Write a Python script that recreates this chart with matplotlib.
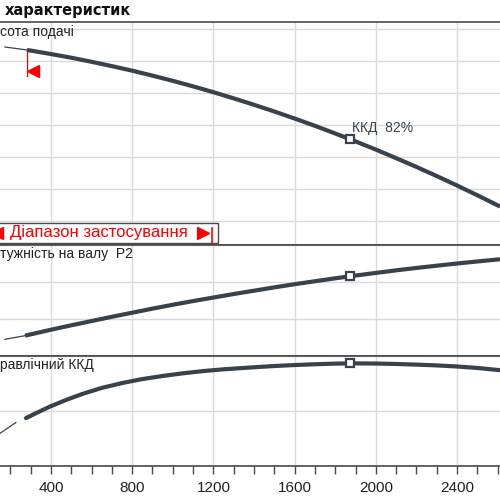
import matplotlib
matplotlib.use("Agg")
import matplotlib.pyplot as plt
from matplotlib.patches import Rectangle
from matplotlib.lines import Line2D

# ---- data ----
q_head = [282, 400, 500, 600, 700, 800, 900, 1000, 1100, 1200, 1300, 1400, 1500, 1600,
          1700, 1800, 1900, 2000, 2100, 2200, 2300, 2400, 2500, 2612]
head = [41.38, 40.87, 40.41, 39.90, 39.36, 38.79, 38.17, 37.52, 36.83, 36.10, 35.33, 34.53,
        33.69, 32.81, 31.90, 30.94, 29.95, 28.93, 27.86, 26.76, 25.62, 24.44, 23.22, 21.81]
q_head_thin = [173, 282]
head_thin = [41.75, 41.38]

q_p2 = [272, 300, 400, 500, 600, 700, 800, 900, 1000, 1100, 1200, 1300, 1400, 1500, 1600,
        1700, 1800, 1900, 2000, 2100, 2200, 2300, 2400, 2500, 2612]
p2 = [3.10, 3.17, 3.42, 3.66, 3.89, 4.12, 4.34, 4.56, 4.77, 4.97, 5.16, 5.35, 5.53, 5.71,
      5.88, 6.04, 6.20, 6.35, 6.49, 6.63, 6.76, 6.88, 7.00, 7.11, 7.23]
q_p2_thin = [173, 272]
p2_thin = [2.9, 3.1]

q_eta = [277, 330, 395, 480, 558, 650, 750, 850, 950, 1050, 1150, 1250, 1380, 1500, 1600,
         1700, 1800, 1873, 2000, 2100, 2200, 2300, 2400, 2500, 2612]
eta = [57.42, 59.35, 61.61, 64.19, 66.29, 68.39, 70.16, 71.61, 72.74, 73.71, 74.52, 75.16,
       75.81, 76.36, 76.71, 77.00, 77.23, 77.32, 77.26, 77.10, 76.87, 76.58, 76.19, 75.65, 74.84]
q_eta_thin = [149, 227]
eta_thin = [51.9, 55.8]

q_duty = 1873
head_duty = 30.22
p2_duty = 6.31
eta_duty = 77.32
eta_label = "ККД  82%"

range_start = 282
range_marker_h = [41.4, 38.1]
range_arrow_h = 38.75

x_major = [400, 800, 1200, 1600, 2000, 2400]
x_minor_step = 100
h_grid = [20, 24, 28, 32, 36, 40, 44]
p2_grid = [2, 4, 6, 8]
eta_grid = [40, 60, 80]

title = "характеристик"
lbl_h = "сота подачі"
lbl_p2 = "тужність на валу  P2"
lbl_eta = "равлічний ККД"
lbl_range = "Діапазон застосування"

# ---- style ----
CURVE = "#37424c"
GRID = "#dadada"
SPINE = "#4a4a4a"
FONT = "Liberation Sans"

fig = plt.figure(figsize=(5, 5), dpi=100)

def fx(px):
    return px / 500.0

def fy(py):
    return 1 - py / 500.0

XL = (148.8, 2611.8)
ax_h = fig.add_axes([0, fy(245), 1, (245 - 22) / 500])
ax_p = fig.add_axes([0, fy(356), 1, (356 - 245) / 500])
ax_e = fig.add_axes([0, fy(466), 1, (466 - 356) / 500])

minor = list(range(200, 2700, x_minor_step))
for ax, grid_vals, ylim in [(ax_h, h_grid, (17, 44.875)),
                            (ax_p, p2_grid, (2.15, 7.7)),
                            (ax_e, eta_grid, (44.5, 80))]:
    ax.set_xlim(*XL)
    ax.set_ylim(*ylim)
    ax.set_xticks(x_major)
    ax.set_yticks(grid_vals)
    ax.grid(True, which="major", color=GRID, lw=1.0, zorder=0)
    ax.set_axisbelow(True)
    ax.tick_params(axis="y", left=False, labelleft=False)
    for s in ["left", "right"]:
        ax.spines[s].set_visible(False)
    for s in ["top", "bottom"]:
        ax.spines[s].set_color(SPINE)
        ax.spines[s].set_linewidth(1.2)
    ax.set_facecolor("white")

for ax in (ax_h, ax_p):
    ax.tick_params(axis="x", bottom=False, labelbottom=False)

ax_e.set_xticks(minor, minor=True)
ax_e.tick_params(axis="x", which="both", direction="out", length=6, width=1,
                 color=SPINE, pad=5)
ax_e.set_xticklabels([str(v) for v in x_major], fontsize=11, family=FONT, color="#222222")

# curves
ax_h.plot(q_head_thin, head_thin, color=CURVE, lw=0.9)
ax_h.plot(q_head, head, color=CURVE, lw=3, solid_capstyle="butt", solid_joinstyle="round")
ax_h.plot([q_duty], [head_duty], marker="s", ms=6, mfc="white", mec=CURVE, mew=1.6, zorder=5)
ax_h.text(1883, 31.6, eta_label, fontsize=10, family=FONT, color="#3a4550", va="center", ha="left")

ax_h.plot([range_start, range_start], range_marker_h, color="red", lw=1)
ax_h.plot([range_start + 27], [range_arrow_h], marker="<", ms=9, color="red", mec="red")

ax_p.plot(q_p2_thin, p2_thin, color=CURVE, lw=0.9)
ax_p.plot(q_p2, p2, color=CURVE, lw=3, solid_capstyle="butt", solid_joinstyle="round")
ax_p.plot([q_duty], [p2_duty], marker="s", ms=6, mfc="white", mec=CURVE, mew=1.6, zorder=5)

ax_e.plot(q_eta_thin, eta_thin, color=CURVE, lw=0.9)
ax_e.plot(q_eta, eta, color=CURVE, lw=3, solid_capstyle="round", solid_joinstyle="round")
ax_e.plot([q_duty], [eta_duty], marker="s", ms=6, mfc="white", mec=CURVE, mew=1.6, zorder=5)

# texts
fig.text(fx(5), fy(10), title, fontsize=10.5, fontweight="bold", family="DejaVu Sans",
         ha="left", va="center", color="#111111")
fig.text(fx(0), fy(32), lbl_h, fontsize=10, family=FONT, ha="left", va="center", color="#222222")
fig.text(fx(0), fy(254), lbl_p2, fontsize=10, family=FONT, ha="left", va="center", color="#222222")
fig.text(fx(0), fy(365), lbl_eta, fontsize=10, family=FONT, ha="left", va="center", color="#222222")

# application range box
fig.patches.append(Rectangle((fx(-2), fy(243)), fx(220), (243 - 223) / 500,
                             transform=fig.transFigure, facecolor="white",
                             edgecolor=SPINE, lw=1.0, zorder=3))
fig.text(fx(10), fy(233), lbl_range, fontsize=12, family=FONT, color="red",
         ha="left", va="center", zorder=4)
fig.lines.append(Line2D([fx(203)], [fy(233)], transform=fig.transFigure, marker=">",
                        ms=8, color="red", mec="red", zorder=4))
fig.lines.append(Line2D([fx(-3.5)], [fy(233)], transform=fig.transFigure, marker="<",
                        ms=8, color="red", mec="red", zorder=4))
fig.lines.append(Line2D([fx(212), fx(212)], [fy(228), fy(243)], transform=fig.transFigure,
                        color="red", lw=1.2, zorder=4))

fig.savefig("out.png", dpi=100)
